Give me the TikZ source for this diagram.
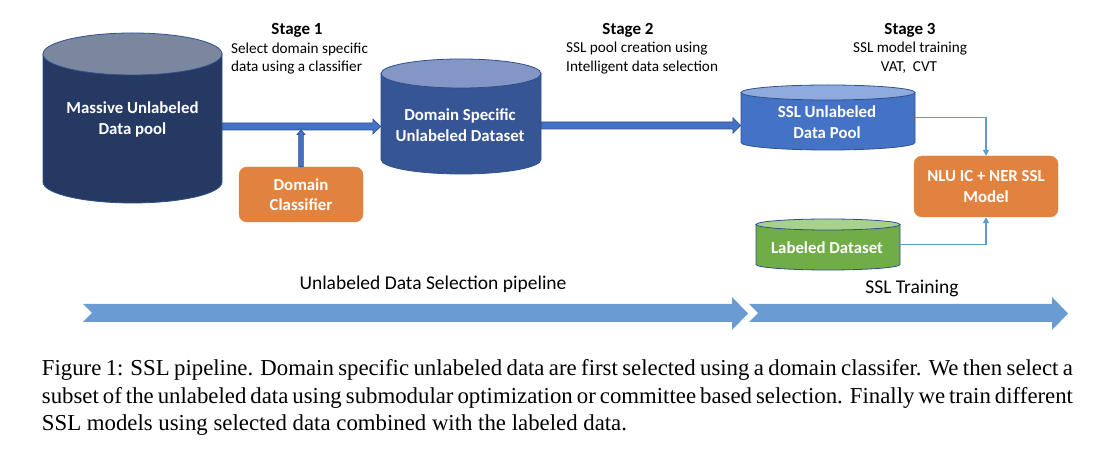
\documentclass[tikz,border=0pt]{standalone}
\usepackage{fontspec}
\setmainfont{Carlito}
\newfontfamily\capfont{Liberation Serif}
\usetikzlibrary{arrows.meta,calc}
\definecolor{navybody}{HTML}{263963}
\definecolor{navytop}{HTML}{7B879F}
\definecolor{dsbody}{HTML}{355595}
\definecolor{dstop}{HTML}{8396C5}
\definecolor{sslbody}{HTML}{4472C4}
\definecolor{ssltop}{HTML}{8FAADC}
\definecolor{grbody}{HTML}{70AD47}
\definecolor{grtop}{HTML}{A9D18E}
\definecolor{cylline}{HTML}{2F528F}
\definecolor{orangebox}{HTML}{E2823F}
\definecolor{thinblue}{HTML}{5B9BD5}
\definecolor{bigarrow}{HTML}{6A9BD2}
\newcommand{\drawcyl}[8]{%
  \node[inner sep=0pt, minimum width={2*#5}, minimum height={#3-#4}] (#1) at (#2,{(#3+#4)/2}) {};
  \path[fill=#7, draw=cylline, line width=0.8pt] (#2-#5,#3) -- (#2-#5,#4)
     arc[start angle=180, end angle=360, x radius=#5, y radius=#6] -- (#2+#5,#3) -- cycle;
  \path[fill=#8, draw=cylline, line width=0.8pt] (#2,#3) ellipse[x radius=#5, y radius=#6];
}
\begin{document}
\begin{tikzpicture}[x=1pt,y=1pt,
  shapetext/.style={text=white, font=\fontsize{16.8}{21}\selectfont\bfseries, inner sep=0pt, align=center},
  stagetitle/.style={font=\fontsize{17}{20}\selectfont\bfseries, inner sep=0pt},
  stagedesc/.style={font=\fontsize{15.2}{18}\selectfont, inner sep=0pt},
  boxnode/.style={fill=orangebox, draw=orangebox, rounded corners=8pt, text=white,
     font=\fontsize{16.8}{20.5}\selectfont\bfseries, align=center, inner sep=0pt},
  blockarr/.style={fill=sslbody, draw=cylline, line width=0.6pt},
  thinconn/.style={draw=thinblue, line width=1.4pt, -{Triangle[width=6pt,length=6pt]}},
  bigarr/.style={fill=bigarrow},
  pipetext/.style={font=\fontsize{19.5}{22}\selectfont, inner sep=0pt},
  captext/.style={font=\capfont\fontsize{22.8}{27}\selectfont, inner sep=0pt, anchor=base west}]
\useasboundingbox (0,0) rectangle (1110,452);
\fill[white] (0,0) rectangle (1110,452);

% cylinders
\drawcyl{massive}{132.5}{398}{270}{89.5}{21}{navybody}{navytop}
\drawcyl{domspec}{461}{378.5}{292.5}{80}{14.5}{dsbody}{dstop}
\drawcyl{ssl}{828}{359.5}{309.5}{87}{7.5}{sslbody}{ssltop}
\drawcyl{lab}{828}{227.5}{187.5}{72}{5.5}{grbody}{grtop}

\node[shapetext] (massive-t) at (132.5,333) {Massive Unlabeled\\Data pool};
\node[shapetext] (domspec-t) at (460,327) {Domain Specific\\Unlabeled Dataset};
\node[shapetext] (ssl-t) at (827,329.5) {SSL Unlabeled\\Data Pool};
\node[shapetext] (lab-t) at (827,204) {Labeled Dataset};

% boxes
\node[boxnode, minimum width=124pt, minimum height=55pt] (dclass) at (301,257.5) {Domain\\Classifier};
\node[boxnode, minimum width=144pt, minimum height=61pt] (nlu) at (986,265.5) {NLU IC + NER SSL\\Model};

% stage texts
\node[stagetitle] (s1) at (297,422) {Stage 1};
\node[stagedesc, anchor=west] (s1a) at (231,403) {Select domain specific};
\node[stagedesc, anchor=west] (s1b) at (231,384) {data using a classifier};
\node[stagetitle] (s2) at (628,422) {Stage 2};
\node[stagedesc, anchor=west] (s2a) at (566,403) {SSL pool creation using};
\node[stagedesc, anchor=west] (s2b) at (566,384) {Intelligent data selection};
\node[stagetitle] (s3) at (910,422) {Stage 3};
\node[stagedesc] (s3a) at (910,403) {SSL model training};
\node[stagedesc] (s3b) at (909,384) {VAT,\ \ CVT};

% block arrow 1
\coordinate (a1s) at ($(massive.east)+(0,-8.5)$);
\coordinate (a1t) at (a1s -| domspec.west);
\path[blockarr] ($(a1s)+(0,3.5)$) -- ($(a1t)+(-8,3.5)$) -- ($(a1t)+(-8,7.5)$) -- (a1t)
  -- ($(a1t)+(-8,-7.5)$) -- ($(a1t)+(-8,-3.5)$) -- ($(a1s)+(0,-3.5)$) -- cycle;
% block arrow 2
\coordinate (a2s) at ($(domspec.east)+(0,-9)$);
\coordinate (a2t) at (a2s -| ssl.west);
\path[blockarr] ($(a2s)+(0,3.5)$) -- ($(a2t)+(-8,3.5)$) -- ($(a2t)+(-8,8)$) -- (a2t)
  -- ($(a2t)+(-8,-8)$) -- ($(a2t)+(-8,-3.5)$) -- ($(a2s)+(0,-3.5)$) -- cycle;
% vertical arrow from classifier
\coordinate (v1t) at ($(dclass.north |- a1s)+(0,-3.5)$);
\path[blockarr] ($(dclass.north)+(-2.3,0)$) -- ($(v1t)+(-2.3,-4.5)$) -- ($(v1t)+(-4,-4.5)$) -- (v1t)
  -- ($(v1t)+(4,-4.5)$) -- ($(v1t)+(2.3,-4.5)$) -- ($(dclass.north)+(2.3,0)$) -- cycle;

% thin connectors
\draw[thinconn] (ssl.east) -| (nlu.north);
\draw[thinconn] (lab.east) -| (nlu.south);

% pipeline arrows
\path[bigarr] (83,148) -- (732,148) -- (732,155) -- (748,138.5) -- (732,122) -- (732,130) -- (83,130) -- (92,139) -- cycle;
\path[bigarr] (749,148) -- (1052,148) -- (1052,155) -- (1068,138.5) -- (1052,122) -- (1052,130) -- (749,130) -- (758,139) -- cycle;
\node[pipetext] (p1) at (433,168) {Unlabeled Data Selection pipeline};
\node[pipetext] (p2) at (912,164) {SSL Training};

% caption
\node[captext] (c1) at (41.7,76) {\makebox[1031pt][s]{Figure 1: SSL pipeline. Domain specific unlabeled data are first selected using a domain classifer. We then select a}};
\node[captext] (c2) at (41.7,48.5) {\makebox[1031pt][s]{subset of the unlabeled data using submodular optimization or committee based selection. Finally we train different}};
\node[captext] (c3) at (41.7,21) {SSL models using selected data combined with the labeled data.};
\end{tikzpicture}
\end{document}
